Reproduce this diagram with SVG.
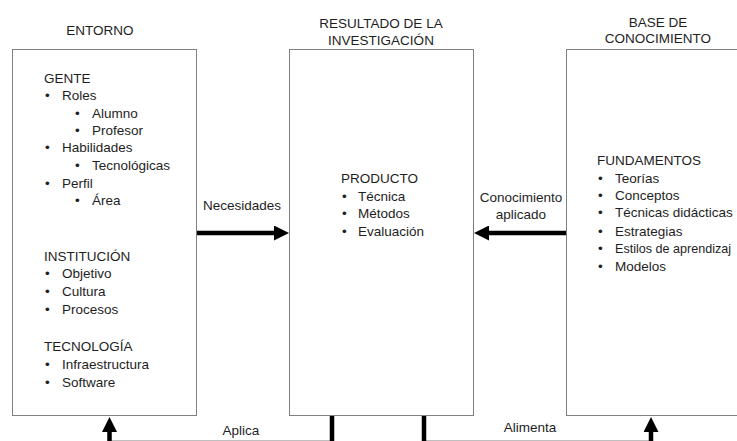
<svg xmlns="http://www.w3.org/2000/svg" width="737" height="441" viewBox="0 0 737 441">
<style>
.box{fill:#fff;stroke:#808080;stroke-width:1}
text{font-family:"Liberation Sans",Arial,sans-serif;font-size:13.5px;fill:#1e1e1e}
.c{text-anchor:middle}
.con{fill:none;stroke:#000;stroke-width:4.5}
.bl{fill:none;stroke:#000;stroke-width:4.5;opacity:0.5}
</style>
<defs>
<marker id="ah" markerUnits="userSpaceOnUse" markerWidth="16" markerHeight="15" refX="0" refY="7.5" orient="auto">
<path d="M0,0 L15,7.5 L0,15 Z" fill="#000"/>
</marker>
</defs>
<rect width="737" height="441" fill="#fff"/>
<g id="entorno">
<text class="c" x="100" y="35">ENTORNO</text>
<rect class="box" x="12.5" y="49.5" width="184" height="366"/>
<text x="44" y="83">GENTE</text>
<text x="45" y="100">•</text><text x="62" y="100">Roles</text>
<text x="75" y="118">•</text><text x="92" y="118">Alumno</text>
<text x="75" y="135">•</text><text x="92" y="135">Profesor</text>
<text x="45" y="152">•</text><text x="62" y="152">Habilidades</text>
<text x="75" y="170">•</text><text x="92" y="170">Tecnológicas</text>
<text x="45" y="188">•</text><text x="62" y="188">Perfil</text>
<text x="75" y="205">•</text><text x="92" y="205">Área</text>
<text x="44" y="261">INSTITUCIÓN</text>
<text x="45" y="278">•</text><text x="62" y="278">Objetivo</text>
<text x="45" y="296">•</text><text x="62" y="296">Cultura</text>
<text x="45" y="314">•</text><text x="62" y="314">Procesos</text>
<text x="44" y="351">TECNOLOGÍA</text>
<text x="45" y="369">•</text><text x="62" y="369">Infraestructura</text>
<text x="45" y="387">•</text><text x="62" y="387">Software</text>
</g>
<g id="resultado">
<text class="c" x="381" y="28">RESULTADO DE LA</text>
<text class="c" x="381" y="45">INVESTIGACIÓN</text>
<rect class="box" x="289.5" y="49.5" width="184" height="366"/>
<text x="341" y="183">PRODUCTO</text>
<text x="342" y="201">•</text><text x="358" y="201">Técnica</text>
<text x="342" y="218">•</text><text x="358" y="218">Métodos</text>
<text x="342" y="236">•</text><text x="358" y="236">Evaluación</text>
</g>
<g id="base">
<text class="c" x="658" y="27">BASE DE</text>
<text class="c" x="658" y="43">CONOCIMIENTO</text>
<rect class="box" x="566.5" y="49.5" width="180" height="366"/>
<text x="597" y="165">FUNDAMENTOS</text>
<text x="598" y="183">•</text><text x="615" y="183">Teorías</text>
<text x="598" y="200">•</text><text x="615" y="200">Conceptos</text>
<text x="598" y="217">•</text><text x="615" y="217">Técnicas didácticas</text>
<text x="598" y="236">•</text><text x="615" y="236">Estrategias</text>
<text x="598" y="253">•</text><text x="615" y="253" style="font-size:13px" textLength="116" lengthAdjust="spacingAndGlyphs">Estilos de aprendizaj</text>
<text x="598" y="271">•</text><text x="615" y="271">Modelos</text>
</g>
<g id="connectors">
<path class="con" d="M197,233 H274" marker-end="url(#ah)"/>
<path class="con" d="M566,233 H489" marker-end="url(#ah)"/>
<path class="con" d="M332,416 V443 H109.5 V432" marker-end="url(#ah)"/>
<path class="con" d="M424,416 V443 H651 V432" marker-end="url(#ah)"/>
<text class="c" x="242" y="210">Necesidades</text>
<text class="c" x="521" y="202">Conocimiento</text>
<text class="c" x="521" y="219">aplicado</text>
<text class="c" x="241" y="435">Aplica</text>
<text class="c" x="530" y="432">Alimenta</text>
</g>
</svg>
